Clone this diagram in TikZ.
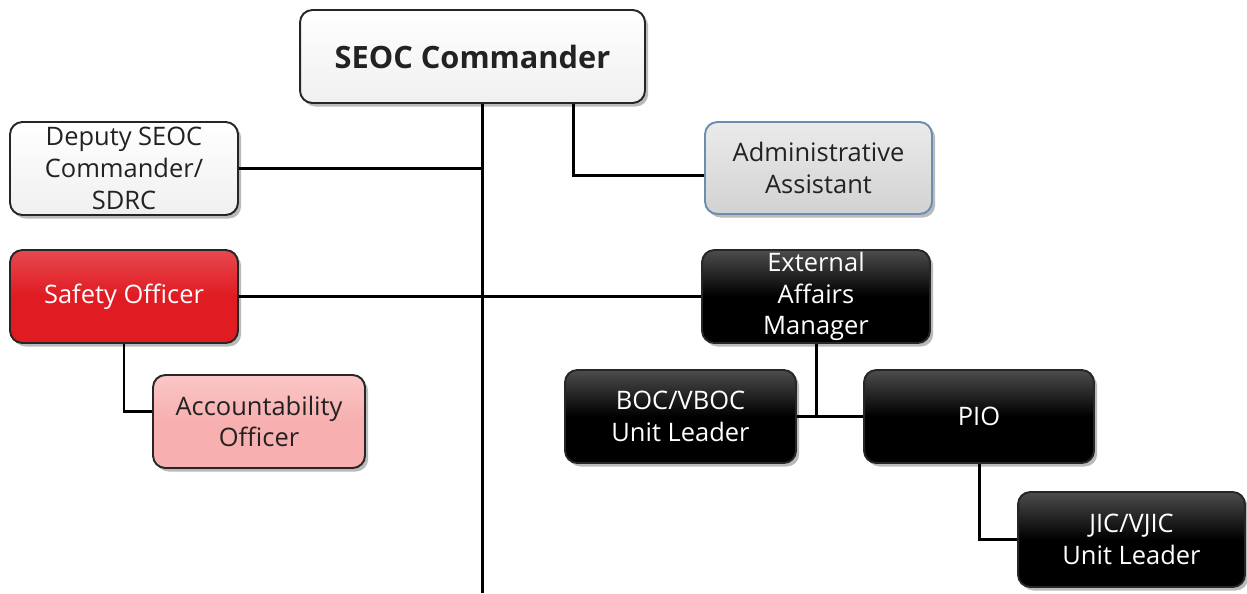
\documentclass[tikz,border=0pt]{standalone}
\usepackage{fontspec}
\setmainfont{Open Sans}
\usetikzlibrary{shadows,calc}
\definecolor{redbox}{HTML}{E01B22}
\definecolor{pinkbox}{HTML}{F8AFAF}
\definecolor{graybox}{HTML}{D2D2D2}
\definecolor{blueedge}{HTML}{6D8DB0}
\definecolor{txt}{HTML}{222222}
\tikzset{
  orgbox/.style={draw=black!85, line width=1.1pt, rounded corners=7pt, align=center,
    inner sep=1pt, font=\fontsize{14.5}{18}\selectfont, text=txt,
    drop shadow={shadow xshift=1.8pt, shadow yshift=-2pt, fill=black!45, opacity=0.6}},
  whitebox/.style={orgbox, top color=white, bottom color=black!6},
  graystyle/.style={orgbox, draw=blueedge, top color=black!8, bottom color=graybox},
  redstyle/.style={orgbox, top color=redbox!80!white, bottom color=redbox, middle color=redbox, text=white},
  pinkstyle/.style={orgbox, top color=pinkbox!70!white, bottom color=pinkbox, middle color=pinkbox},
  blackstyle/.style={orgbox, top color=black!70, bottom color=black, middle color=black, text=white},
  link/.style={line width=1.7pt, black}
}
\begin{document}
\begin{tikzpicture}[x=0.02cm, y=-0.02cm]
\useasboundingbox (0,0) rectangle (1247,593);
\node[whitebox, minimum width=6.9cm, minimum height=1.86cm, font=\bfseries\fontsize{17.5}{22}\selectfont] (cmd) at (472.5,56.5) {SEOC Commander};
\node[whitebox, minimum width=4.56cm, minimum height=1.86cm] (dep) at (124,168.5) {Deputy SEOC\\Commander/\\SDRC};
\node[graystyle, minimum width=4.54cm, minimum height=1.84cm] (adm) at (818.5,168) {Administrative\\Assistant};
\node[redstyle, minimum width=4.56cm, minimum height=1.86cm] (saf) at (124,296.5) {Safety Officer};
\node[blackstyle, minimum width=4.56cm, minimum height=1.86cm] (ext) at (816,296.5) {External\\Affairs\\Manager};
\node[pinkstyle, minimum width=4.24cm, minimum height=1.86cm] (acc) at (259,421.5) {Accountability\\Officer};
\node[blackstyle, minimum width=4.62cm, minimum height=1.86cm] (boc) at (680.5,416.5) {BOC/VBOC\\Unit Leader};
\node[blackstyle, minimum width=4.6cm, minimum height=1.86cm] (pio) at (979,416.5) {PIO};
\node[blackstyle, minimum width=4.54cm, minimum height=1.9cm] (jic) at (1131.5,539.5) {JIC/VJIC\\Unit Leader};
\coordinate (trunk) at (482,103);
\coordinate (bot) at (482,593);
\coordinate (admtap) at (573,103);
\draw[link] (cmd.south -| trunk) -- (bot);
\draw[link] (dep.east) -- (dep.east -| trunk);
\draw[link] (cmd.south -| admtap) |- ([yshift=-0.15cm]adm.west);
\draw[link] (saf.east) -- (ext.west);
\draw[link] (saf.south) |- ([yshift=0.2cm]acc.west);
\draw[link] (ext.south) -- (ext.south |- boc.east);
\draw[link] (boc.east) -- (pio.west);
\draw[link] (pio.south) |- (jic.west);
\end{tikzpicture}
\end{document}
